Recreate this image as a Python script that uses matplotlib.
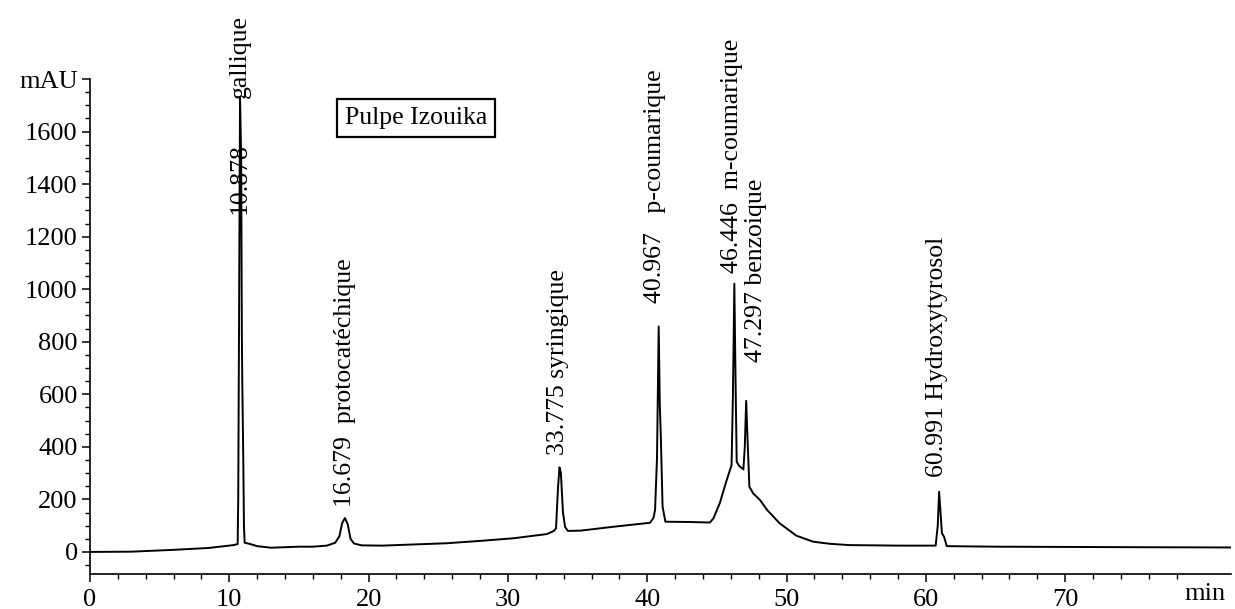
import matplotlib
matplotlib.use("Agg")
import matplotlib.pyplot as plt
from matplotlib.ticker import FixedLocator

# ---- data (time in min, absorbance in mAU) ----
time_min = [0.0, 3.0, 6.0, 8.5, 10.3, 10.6, 10.62, 10.64, 10.70, 10.77, 10.85, 10.90, 10.93,
            11.0, 11.05, 11.1, 11.5, 12.0, 13.0, 14.0, 15.0, 16.0, 17.0, 17.6, 17.9, 18.1,
            18.3, 18.5, 18.7, 18.95, 19.5, 21.0, 23.0, 25.6, 28.0, 30.4, 32.8, 33.3, 33.45,
            33.6, 33.7, 33.8, 33.95, 34.1, 34.3, 35.2, 37.6, 40.2, 40.45, 40.56, 40.7, 40.82,
            40.9, 40.97, 41.1, 41.3, 43.0, 44.5, 44.75, 45.2, 45.7, 46.05, 46.15, 46.25,
            46.35, 46.42, 46.6, 46.9, 47.0, 47.1, 47.2, 47.33, 47.6, 48.1, 48.6, 49.5, 50.7,
            51.9, 53.1, 54.5, 58.1, 60.7, 60.85, 60.95, 61.05, 61.15, 61.3, 61.5, 65.0, 70.0,
            75.0, 81.9]
absorb_mau = [0, 1, 8, 15, 26, 30, 120, 200, 900, 1728, 1500, 830, 650,
              365, 100, 35, 30, 22, 16, 18, 20, 20, 24, 35, 60, 110,
              129, 105, 50, 32, 25, 24, 28, 33, 42, 52, 68, 80, 90,
              250, 322, 300, 150, 95, 80, 81, 96, 111, 130, 160, 360, 858,
              560, 444, 172, 115, 114, 112, 128, 185, 273, 330, 600, 1021,
              600, 343, 327, 314, 400, 575, 425, 248, 223, 197, 160, 109, 62,
              39, 31, 26, 24, 24, 100, 229, 150, 71, 58, 22, 20, 19,
              18, 17]

# peak annotations: (text, x position [min], bottom of text [mAU])
peak_labels = ["10.878", "gallique", "16.679  protocatéchique", "33.775 syringique",
               "40.967   p-coumarique", "46.446  m-coumarique", "47.297 benzoique",
               "60.991 Hydroxytyrosol"]
label_x = [10.77, 10.77, 18.3, 33.6, 40.56, 46.1, 47.8, 60.8]
label_y = [1287, 1728, 171, 368, 946, 1060, 722, 285]

x_major = [0, 10, 20, 30, 40, 50, 60, 70]
y_major = [0, 200, 400, 600, 800, 1000, 1200, 1400, 1600, 1800]
y_major_labels = ["0", "200", "400", "600", "800", "1000", "1200", "1400", "1600", "mAU"]
title_text = "Pulpe Izouika"

SERIF = "Liberation Serif"

fig = plt.figure(figsize=(12.35, 6.09), dpi=100)
ax = fig.add_axes([90 / 1235, 35 / 609, (1231 - 90) / 1235, (574 - 79) / 609])

ax.plot(time_min, absorb_mau, color="black", lw=1.4)

ax.set_xlim(0, 81.9)
ax.set_ylim(-84, 1800)

ax.spines["top"].set_visible(False)
ax.spines["right"].set_visible(False)
for s in ("left", "bottom"):
    ax.spines[s].set_linewidth(1.2)

ax.set_xticks(x_major)
ax.set_xticklabels([str(v) for v in x_major])
ax.xaxis.set_minor_locator(FixedLocator([v for v in range(0, 80, 2) if v % 10 != 0]))
ax.set_yticks(y_major)
ax.set_yticklabels(y_major_labels)
ax.yaxis.set_minor_locator(FixedLocator([v for v in range(-50, 1800, 50) if v % 200 != 0]))

ax.tick_params(which="major", direction="out", length=5.8, width=1.1, labelsize=19,
               colors="black")
ax.tick_params(which="minor", direction="out", length=3.6, width=1.0)
ax.tick_params(axis="x", pad=5)
ax.tick_params(axis="y", pad=3)
for lab in ax.get_xticklabels() + ax.get_yticklabels():
    lab.set_fontfamily(SERIF)

ax.text(80, -84 - 9 / 0.2633, "min", ha="center", va="top",
        fontsize=19, family=SERIF)

for txt, xv, yv in zip(peak_labels, label_x, label_y):
    ax.text(xv, yv, txt, rotation=90, ha="center", va="bottom", fontsize=18.5,
            family=SERIF, clip_on=False)

ax.text(23.4, 1652, title_text, ha="center", va="center", fontsize=18.5, family=SERIF,
        bbox=dict(boxstyle="square,pad=0.3", fc="white", ec="black", lw=1.6))

fig.savefig("out.png", dpi=100)
